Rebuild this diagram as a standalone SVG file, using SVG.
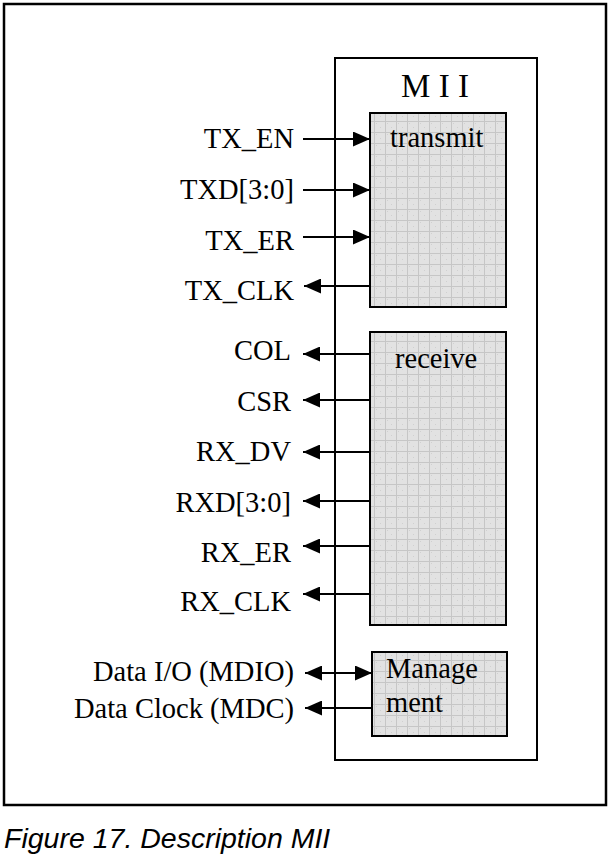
<svg xmlns="http://www.w3.org/2000/svg" width="612" height="858" viewBox="0 0 612 858">
<defs>
<style>
.lbl{font-family:"Liberation Serif","Times New Roman",serif;font-size:28.5px;fill:#000;text-anchor:end}
.inner{font-family:"Liberation Serif","Times New Roman",serif;font-size:28.5px;fill:#000}
.ln{stroke:#000;stroke-width:2;fill:none}
.blk{fill:url(#grid);stroke:#000;stroke-width:2}
</style>
<pattern id="grid" width="11" height="11" patternUnits="userSpaceOnUse">
<rect width="11" height="11" fill="#e2e2e2"/>
<rect x="2" y="2" width="1" height="1" fill="#d0d0d0"/>
<rect x="6" y="6" width="1" height="1" fill="#d0d0d0"/>
<path d="M0 0.5H11M0.5 0V11" stroke="#c6c6c6" stroke-width="1"/>
</pattern>
<marker id="ah" viewBox="0 0 17 15" refX="17" refY="7.5" markerWidth="17" markerHeight="15" markerUnits="userSpaceOnUse" orient="auto-start-reverse">
<path d="M0 0L17 7.5L0 15Z" fill="#000"/>
</marker>
</defs>
<rect x="0" y="0" width="612" height="858" fill="#fff"/>
<rect id="frame" x="4" y="4" width="602" height="801" fill="none" stroke="#000" stroke-width="2.5"/>
<g id="mii">
<rect x="335" y="58" width="202" height="702" fill="#fff" stroke="#000" stroke-width="2"/>
<text x="435" y="97" style="font-family:'Liberation Serif','Times New Roman',serif;font-size:33px;text-anchor:middle">M I I</text>
</g>
<g id="transmit">
<rect class="blk" x="370" y="113" width="136" height="194"/>
<text class="inner" x="390" y="147">transmit</text>
</g>
<g id="receive">
<rect class="blk" x="370" y="332" width="136" height="293"/>
<text class="inner" x="395" y="368">receive</text>
</g>
<g id="management">
<rect class="blk" x="372" y="652" width="135" height="84"/>
<text class="inner" x="386" y="678">Manage</text>
<text class="inner" x="386" y="712">ment</text>
</g>
<g id="connectors">
<line class="ln" x1="303" y1="139" x2="370" y2="139" marker-end="url(#ah)"/>
<line class="ln" x1="303" y1="190" x2="370" y2="190" marker-end="url(#ah)"/>
<line class="ln" x1="303" y1="237" x2="370" y2="237" marker-end="url(#ah)"/>
<line class="ln" x1="370" y1="286" x2="304" y2="286" marker-end="url(#ah)"/>
<line class="ln" x1="370" y1="354" x2="303" y2="354" marker-end="url(#ah)"/>
<line class="ln" x1="370" y1="400" x2="303" y2="400" marker-end="url(#ah)"/>
<line class="ln" x1="370" y1="452" x2="303" y2="452" marker-end="url(#ah)"/>
<line class="ln" x1="370" y1="501" x2="303" y2="501" marker-end="url(#ah)"/>
<line class="ln" x1="370" y1="546" x2="303" y2="546" marker-end="url(#ah)"/>
<line class="ln" x1="370" y1="594" x2="303" y2="594" marker-end="url(#ah)"/>
<line class="ln" x1="305" y1="673" x2="372" y2="673" marker-start="url(#ah)" marker-end="url(#ah)"/>
<line class="ln" x1="372" y1="708" x2="305" y2="708" marker-end="url(#ah)"/>
</g>
<g id="labels">
<text class="lbl" x="294" y="148">TX_EN</text>
<text class="lbl" x="294" y="199">TXD[3:0]</text>
<text class="lbl" x="294" y="250">TX_ER</text>
<text class="lbl" x="294" y="300">TX_CLK</text>
<text class="lbl" x="291" y="360">COL</text>
<text class="lbl" x="291" y="411">CSR</text>
<text class="lbl" x="291" y="461">RX_DV</text>
<text class="lbl" x="291" y="512">RXD[3:0]</text>
<text class="lbl" x="291" y="562">RX_ER</text>
<text class="lbl" x="291" y="611">RX_CLK</text>
<text class="lbl" x="294" y="681">Data I/O (MDIO)</text>
<text class="lbl" x="294" y="718">Data Clock (MDC)</text>
</g>
<text x="4" y="848" style="font-family:'Liberation Sans',Arial,sans-serif;font-size:28.5px;font-style:italic">Figure 17. Description MII</text>
</svg>
